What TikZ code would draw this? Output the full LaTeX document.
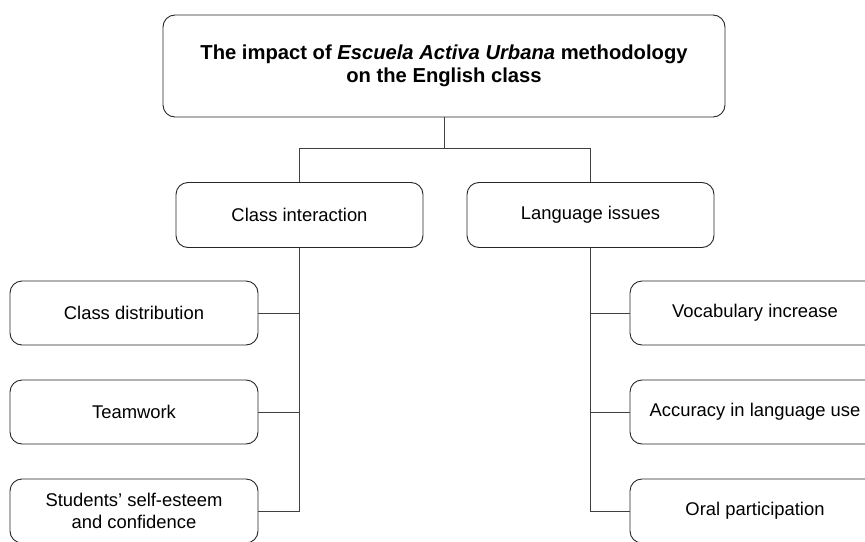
\documentclass[tikz,border=0pt]{standalone}
\usepackage{fontspec}
\setmainfont{Liberation Sans}
\begin{document}
\begin{tikzpicture}[x=1pt,y=-1pt,
  box/.style={draw=black!85, line width=0.9pt, rounded corners=12pt, fill=white, align=center, font=\fontsize{18.4}{22}\selectfont, inner sep=0pt},
  link/.style={draw=black!75, line width=0.9pt}]
\useasboundingbox (0,0) rectangle (865,541);
\clip (0,0) rectangle (865,541);
\node[box, minimum width=562pt, minimum height=102pt, font=\bfseries\fontsize{20.2}{22.5}\selectfont] (root) at (444,66) {The impact of \textit{Escuela Activa Urbana} methodology\\on the English class};
\node[box, minimum width=247pt, minimum height=65pt] (ci) at (299.5,215) {Class interaction};
\node[box, minimum width=247pt, minimum height=65pt] (li) at (590.5,215) {Language issues};
\node[box, minimum width=248pt, minimum height=64pt] (cd) at (134,313) {Class distribution};
\node[box, minimum width=248pt, minimum height=64pt] (tw) at (134,412) {Teamwork};
\node[box, minimum width=248pt, minimum height=64pt] (se) at (134,511) {Students' self-esteem\\and confidence};
\node[box, minimum width=250pt, minimum height=64pt] (vi) at (755,313) {Vocabulary increase};
\node[box, minimum width=250pt, minimum height=64pt] (al) at (755,412) {Accuracy in language use};
\node[box, minimum width=250pt, minimum height=64pt] (op) at (755,511) {Oral participation};
\coordinate (j) at (444,148);
\draw[link] (root.south) -- (j);
\draw[link] (j) -| (ci.north);
\draw[link] (j) -| (li.north);
\draw[link] (ci.south) -- (ci.south |- se.east) -- (se.east);
\draw[link] (cd.east) -- (cd.east -| ci.south);
\draw[link] (tw.east) -- (tw.east -| ci.south);
\draw[link] (li.south) -- (li.south |- op.west) -- (op.west);
\draw[link] (vi.west) -- (vi.west -| li.south);
\draw[link] (al.west) -- (al.west -| li.south);
\end{tikzpicture}
\end{document}
